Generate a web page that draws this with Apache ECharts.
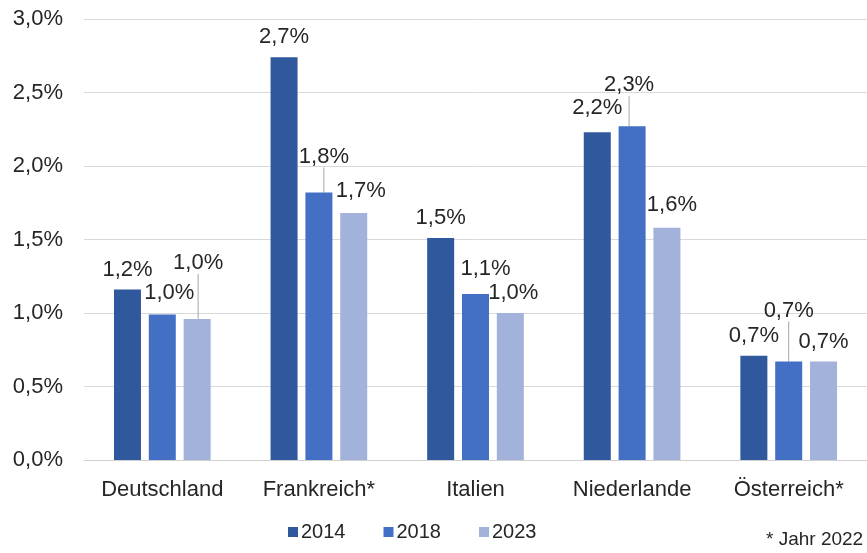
<!DOCTYPE html>
<html>
<head>
<meta charset="utf-8">
<script src="https://cdn.jsdelivr.net/npm/echarts@6/dist/echarts.min.js"></script>
<style>
  html, body { margin: 0; padding: 0; background: #fff; }
  #chart { width: 867px; height: 553px; }
</style>
</head>
<body>
<div id="chart"></div>
<script>
// ---- data ----
const categories = ['Deutschland', 'Frankreich*', 'Italien', 'Niederlande', 'Österreich*'];
const seriesNames = ['2014', '2018', '2023'];
const values2014 = [1.16, 2.74, 1.51, 2.23, 0.71];
const values2018 = [0.99, 1.82, 1.13, 2.27, 0.67];
const values2023 = [0.96, 1.68, 1.00, 1.58, 0.67];
const yTicks = [0, 0.5, 1.0, 1.5, 2.0, 2.5, 3.0];
const footnote = '* Jahr 2022';

// ---- styling ----
const colors = ['#30589c', '#4370c4', '#a3b2da'];
const FONT = '"Liberation Sans", Arial, sans-serif';
const TXT = '#262626';
// label shifts [dx, dy, showLine] per series / category
const shifts = [
  [[0,0,0],[0,0,0],[0,0,0],[0,-4,0],[0,0,0]],
  [[7,-2,0],[5,-16,1],[10,-5,0],[-3,-21,1],[0,-31,1]],
  [[1,-36,1],[7,-2,0],[3,0,0],[5,-3,0],[0,0,0]]
];
const fmt = v => v.toFixed(1).replace('.', ',') + '%';

const allValues = [values2014, values2018, values2023];
const series = allValues.map((vals, si) => ({
  name: seriesNames[si],
  type: 'bar',
  barWidth: 27,
  barGap: '29%',
  itemStyle: { color: colors[si] },
  data: vals.map((v, ci) => ({
    value: v,
    labelLine: { show: !!shifts[si][ci][2] }
  })),
  label: {
    show: true,
    position: 'top',
    distance: 9,
    fontFamily: FONT,
    fontSize: 22,
    color: TXT,
    formatter: p => fmt(p.value)
  },
  labelLine: {
    show: true,
    lineStyle: { color: '#a6a6a6', width: 1 }
  },
  labelLayout: p => ({ dx: shifts[si][p.dataIndex][0], dy: shifts[si][p.dataIndex][1] })
}));

const chart = echarts.init(document.getElementById('chart'), null, { renderer: 'canvas' });
chart.setOption({
  animation: false,
  backgroundColor: '#fff',
  grid: { left: 84, top: 19, width: 788, height: 441, containLabel: false },
  xAxis: {
    type: 'category',
    data: categories,
    axisTick: { show: false },
    axisLine: { lineStyle: { color: '#d0d0d0', width: 1 } },
    axisLabel: { interval: 0, hideOverlap: false, fontFamily: FONT, fontSize: 22, color: TXT, margin: 19 }
  },
  yAxis: {
    type: 'value',
    min: yTicks[0],
    max: yTicks[yTicks.length - 1],
    interval: 0.5,
    axisLine: { show: false },
    axisTick: { show: false },
    splitLine: { lineStyle: { color: '#d9d9d9', width: 1 } },
    axisLabel: {
      fontFamily: FONT, fontSize: 22, color: TXT, margin: 21,
      formatter: v => fmt(v)
    }
  },
  legend: {
    left: 283,
    top: 517,
    itemWidth: 10,
    itemHeight: 10,
    itemGap: 38,
    icon: 'rect',
    textStyle: { fontFamily: FONT, fontSize: 20, color: TXT, padding: [0, 0, 0, -2] },
    data: seriesNames
  },
  graphic: [{
    type: 'text',
    left: 766,
    top: 530,
    style: { text: footnote, fontFamily: FONT, fontSize: 19, fill: TXT }
  }],
  series: series
});
</script>
</body>
</html>
